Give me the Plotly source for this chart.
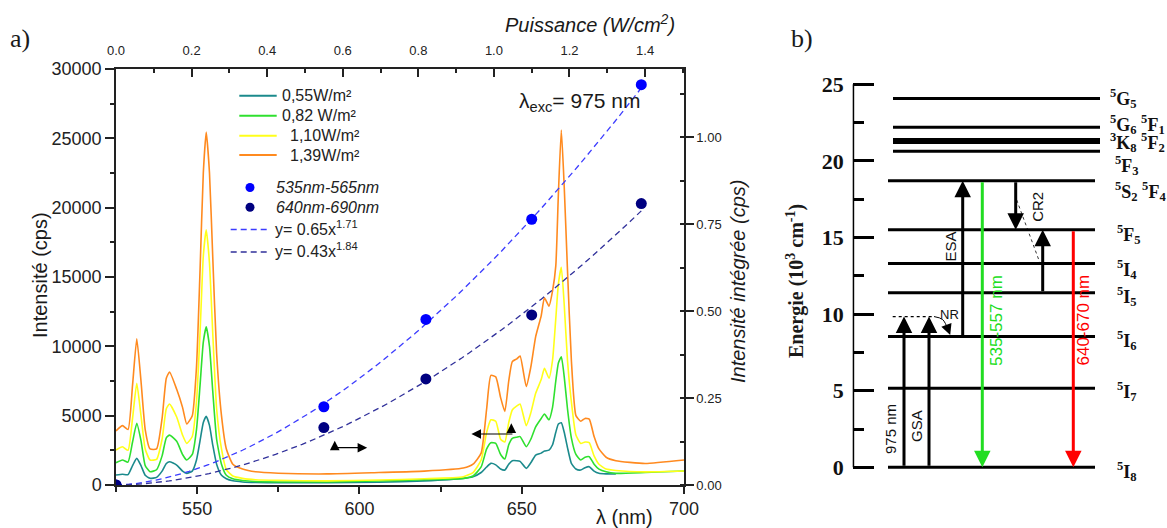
import numpy as np
import plotly.graph_objects as go

W, H = 1167, 528

# ---------------- data : emission spectra ----------------
wavelength_nm = [525, 527, 528.7, 530.1, 531.4, 532.7, 534, 535.5, 537.5, 539.2,
                 540.5, 541.5, 543.7, 545.5, 546.8, 548.5, 549.8, 550.9, 551.9, 552.8,
                 553.8, 554.8, 556, 557.5, 559, 561, 564, 568, 575, 590,
                 606, 620, 632, 635, 637.5, 639.2, 640.5, 642, 643.5, 644.8,
                 646, 647.1, 648.5, 649.5, 651.4, 652.8, 654.3, 656, 657, 658.4,
                 659.5, 660.5, 661.3, 662.2, 663.1, 664.1, 665.3, 666.7, 668.2, 669.5,
                 670.8, 672.3, 673.8, 676, 679, 688, 700]

spec_055 = [720, 770, 750, 1400, 1920, 1400, 700, 480, 550, 1000,
            1550, 1680, 1440, 1000, 840, 1000, 1800, 3200, 4500, 4950,
            4300, 2900, 1500, 700, 450, 300, 220, 180, 170, 170,
            200, 300, 480, 600, 900, 1300, 1560, 1450, 1150, 1080,
            1500, 1750, 1750, 1700, 1200, 1600, 2160, 2300, 2450, 2520,
            2900, 3800, 4400, 4490, 3800, 2700, 1560, 1150, 1080, 1250,
            1320, 1000, 840, 800, 790, None, None]

spec_082 = [1610, 1800, 1650, 3100, 4450, 3200, 1400, 960, 1100, 2100,
            3400, 3600, 3150, 2200, 1800, 2200, 4000, 7200, 10300, 11400,
            10000, 6800, 3300, 1500, 700, 450, 320, 250, 220, 220,
            290, 380, 480, 650, 1300, 2600, 3050, 3000, 2200, 1875,
            2900, 3370, 3450, 3490, 2760, 3300, 4200, 4800, 5120, 4700,
            5600, 7500, 8800, 9250, 7800, 5500, 3400, 2200, 1800, 2000,
            2040, 1500, 1150, 950, 840, 900, 1010]

spec_110 = [2520, 2760, 2500, 4800, 7330, 5000, 2600, 1800, 1850, 3300,
            5500, 5840, 4900, 3600, 3000, 3500, 6000, 11000, 16500, 18400,
            16000, 11000, 5500, 2600, 1100, 650, 480, 380, 330, 300,
            360, 450, 600, 900, 1800, 3800, 4700, 4600, 3300, 3100,
            4500, 5410, 5700, 5840, 4280, 5200, 6610, 7600, 8410, 7700,
            9000, 12000, 14500, 15700, 13000, 9000, 6000, 3600, 3000, 3100,
            3050, 2100, 1500, 1150, 1050, 950, 1010]

spec_139 = [3900, 4280, 4000, 7200, 10550, 7500, 4000, 2600, 2600, 4800,
            7700, 8150, 6900, 5600, 4400, 5000, 8500, 15500, 22500, 25450,
            22500, 16500, 9500, 5000, 2600, 1500, 1150, 950, 850, 800,
            900, 1000, 1220, 1500, 2300, 5500, 7900, 7800, 6300, 5300,
            7500, 8900, 9100, 9300, 7100, 8500, 10700, 12200, 13500, 12900,
            14000, 15800, 21000, 25600, 21500, 15500, 9000, 5000, 4600, 4800,
            4750, 3500, 2600, 2000, 1750, 1550, 1800]

spec_names = ["0,55W/m²", "0,82 W/m²", "1,10W/m²", "1,39W/m²"]

# ---------------- data : integrated intensity vs power ----------------
power = [0.0, 0.55, 0.82, 1.10, 1.39]
int_green_band = [0.0, 0.225, 0.476, 0.764, 1.151]
int_red_band = [0.0, 0.165, 0.305, 0.489, 0.809]
band_names = ["535nm-565nm", "640nm-690nm"]
fit_green = (0.65, 1.71)   # y = a x^b
fit_red = (0.43, 1.84)

# ---------------- data : energy levels (10^3 cm-1) ----------------
level_energy = [0, 5.16, 8.54, 11.4, 13.3, 15.5, 18.7, 20.63, 21.2, 21.4, 22.2, 24.07]
level_names = ["<sup>5</sup>G<sub>5</sub>",
               "<sup>5</sup>G<sub>6</sub> <sup>5</sup>F<sub>1</sub>",
               "<sup>3</sup>K<sub>8</sub> <sup>5</sup>F<sub>2</sub>",
               "<sup>5</sup>F<sub>3</sub>",
               "<sup>5</sup>S<sub>2</sub> <sup>5</sup>F<sub>4</sub>",
               "<sup>5</sup>F<sub>5</sub>",
               "<sup>5</sup>I<sub>4</sub>",
               "<sup>5</sup>I<sub>5</sub>",
               "<sup>5</sup>I<sub>6</sub>",
               "<sup>5</sup>I<sub>7</sub>",
               "<sup>5</sup>I<sub>8</sub>"]
level_label_energy = [24.1, 22.4, 21.2, 19.67, 17.97, 15.17, 12.88, 11.12, 8.31, 4.98, -0.24]
trans_from = [0, 0, 8.4, 18.7, 18.7, 11.4, 15.5]
trans_to = [9.84, 9.84, 18.7, 0, 15.5, 15.5, 0]
nr_level = 9.84

# ---------------- styling / positions ----------------
SANS = "Liberation Sans, Arial, sans-serif"
SERIF = "Liberation Serif, Times New Roman, serif"
spec_colors = ["#1b8a8c", "#2fe02f", "#ffff1a", "#ff8a1f"]
fit_colors = ["#3c3cff", "#30309a"]
pt_colors = ["#0000ff", "#000080"]
GREEN = "#22dd22"
RED = "#ff0000"

fig = go.Figure()

# spectra
for vals, name, col in zip([spec_055, spec_082, spec_110, spec_139], spec_names, spec_colors):
    fig.add_trace(go.Scatter(x=wavelength_nm, y=vals, mode="lines", name=name,
                             line=dict(color=col, width=1.6, shape="spline", smoothing=0.5)))

# fits
p_fit = np.linspace(0, max(power), 80)
fit_labels = []
for fit, col in zip([fit_green, fit_red], fit_colors):
    a, b = fit
    fit_labels.append(f"y= {a}x<sup>{b}</sup>")
    fig.add_trace(go.Scatter(x=p_fit, y=a * p_fit ** b, xaxis="x2", yaxis="y2", mode="lines",
                             name=fit_labels[-1], line=dict(color=col, width=1.3, dash="6px,4px")))
# points
for vals, col, nm in zip([int_green_band, int_red_band], pt_colors, band_names):
    fig.add_trace(go.Scatter(x=power, y=vals, xaxis="x2", yaxis="y2", mode="markers",
                             name=nm, marker=dict(color=col, size=11)))

# energy levels
LOW_X = (35.3, 242.3)
HIGH_X = (40.3, 247.3)
lx, ly, hx, hy = [], [], [], []
for e in level_energy:
    if e < 20:
        lx += [LOW_X[0], LOW_X[1], None]; ly += [e, e, None]
    else:
        hx += [HIGH_X[0], HIGH_X[1], None]; hy += [e, e, None]
fig.add_trace(go.Scatter(x=lx + hx, y=ly + hy, xaxis="x3", yaxis="y3", mode="lines",
                         line=dict(color="black", width=3), hoverinfo="skip"))
# dotted virtual level
fig.add_trace(go.Scatter(x=[40, 80.3], y=[nr_level, nr_level], xaxis="x3", yaxis="y3", mode="lines",
                         line=dict(color="black", width=1.3, dash="dot")))
# CR2 thin connecting line
fig.add_trace(go.Scatter(x=[164, 187.3], y=[17.45, 13.33], xaxis="x3", yaxis="y3",
                         mode="lines", line=dict(color="black", width=0.8, dash="dot")))
# NR curve
fig.add_trace(go.Scatter(x=[81.3, 90, 95.5], y=[nr_level, nr_level - 0.2, nr_level - 0.9], xaxis="x3", yaxis="y3",
                         mode="lines", line=dict(color="black", width=1, shape="spline")))

annotations = []
shapes = []
trans_x = [51.3, 76.3, 110, 129.6, 163, 190, 220.6]
trans_col = ["black", "black", "black", GREEN, "black", "black", RED]
for x, e0, e1, c in zip(trans_x, trans_from, trans_to, trans_col):
    annotations.append(dict(x=x, y=e1, ax=x, ay=e0, xref="x3", yref="y3", axref="x3", ayref="y3",
                            text="", showarrow=True, arrowhead=2, arrowsize=1.1, arrowwidth=3, arrowcolor=c))
# NR arrow head
annotations.append(dict(x=97.5, y=nr_level - 1.2, ax=95.5, ay=nr_level - 0.85, xref="x3", yref="y3",
                        axref="x3", ayref="y3", text="", showarrow=True, arrowhead=2, arrowsize=1.8,
                        arrowwidth=1.2, arrowcolor="black"))

# level labels
label_x = [255.5, 255.5, 255.5, 260.5, 260.5, 262.3, 262.3, 262.3, 262.3, 262.3, 262.3]
for t, e, x in zip(level_names, level_label_energy, label_x):
    annotations.append(dict(x=x, y=e, xref="x3", yref="y3", text=t, showarrow=False,
                            xanchor="left", yanchor="middle",
                            font=dict(family=SERIF, size=18, color="#111", weight="bold")))

# transition labels
def tl(text, x, e, size=15, color="#111", angle=-90):
    annotations.append(dict(x=x, y=e, xref="x3", yref="y3", text=text, showarrow=False, textangle=angle,
                            xanchor="center", yanchor="middle",
                            font=dict(family=SANS, size=size, color=color)))

tl("975 nm", 37.3, 2.5)
tl("GSA", 64.3, 2.7)
tl("ESA", 98, 14.4)
tl("CR2", 185.3, 17.0)
tl("NR", 96.5, 10.0, size=13, angle=0)
tl("535-557 nm", 144, 9.6, size=17, color=GREEN)
tl("640-670 nm", 230.6, 9.6, size=17, color=RED)


def pa(text, x, y, size, family=SANS, angle=0, color="#1a1a1a", xanchor="center", italic=False):
    annotations.append(dict(x=x / W, y=1 - y / H, xref="paper", yref="paper", text=text, showarrow=False,
                            textangle=angle, xanchor=xanchor, yanchor="middle",
                            font=dict(family=family, size=size, color=color,
                                      style="italic" if italic else "normal")))

pa("Intensité (cps)", 40, 275, 20, angle=-90)
pa("λ (nm)", 624, 517, 20)
pa("Puissance (W/cm<sup>2</sup>)", 590, 24, 20, italic=True)
pa("Intensité intégrée (cps)", 738, 282, 20, angle=-90, italic=True)
pa("λ<sub>exc</sub>= 975 nm", 580, 102, 21)
pa("a)", 20, 38, 26, family=SERIF)
pa("b)", 802, 38, 26, family=SERIF)
pa("<b>Energie (10<sup>3</sup> cm<sup>-1</sup>)</b>", 795, 281, 20, family=SERIF, angle=-90)

# ---- manual legend (panel a) ----
leg_line_y = [95.7, 115.7, 135.7, 155.0]
leg_line_tx = [279.5, 279.5, 287.5, 287.5]
for yy, tx, nm, col in zip(leg_line_y, leg_line_tx, spec_names, spec_colors):
    shapes.append(dict(type="line", xref="paper", yref="paper", x0=239.3 / W, x1=276.7 / W,
                       y0=1 - yy / H, y1=1 - yy / H, line=dict(color=col, width=2)))
    pa(nm, tx, yy, 16, color="#222", xanchor="left")
leg_pt_y = [187.5, 207.3]
for yy, nm, col in zip(leg_pt_y, band_names, pt_colors):
    shapes.append(dict(type="circle", xref="paper", yref="paper", x0=245.5 / W, x1=254.5 / W,
                       y0=1 - (yy + 4.5) / H, y1=1 - (yy - 4.5) / H, fillcolor=col, line=dict(width=0)))
    pa(nm, 274, yy, 16, color="#222", xanchor="left", italic=True)
leg_fit_y = [229.5, 252.0]
for yy, nm, col in zip(leg_fit_y, fit_labels, fit_colors):
    shapes.append(dict(type="line", xref="paper", yref="paper", x0=230.7 / W, x1=270 / W,
                       y0=1 - yy / H, y1=1 - yy / H, line=dict(color=col, width=1.3, dash="6px,4px")))
    pa(nm, 272.5, yy - 2, 16, color="#222", xanchor="left")

# small axis indicator arrows on panel a
for (x, y, ax, ay) in [(602.4, 2690, 592.2, 2690), (592.4, 3200, 592.4, 2690),
                       (634.5, 3677, 647.6, 3677), (646.8, 4450, 646.8, 3677)]:
    annotations.append(dict(x=x, y=y, ax=ax, ay=ay, xref="x", yref="y", axref="x", ayref="y",
                            text="", showarrow=True, arrowhead=2, arrowsize=1.6, arrowwidth=1.2,
                            arrowcolor="black"))

shapes.append(dict(type="line", xref="x3", yref="y3", x0=0, x1=0, y0=0, y1=25,
                   line=dict(color="black", width=3)))

xd = [116 / W, 684 / W]
yd = [(H - 485) / H, (H - 69) / H]
tickfont = dict(family=SANS, color="#222")
ax_common = dict(automargin=False, showgrid=False, zeroline=False, showline=True, linecolor="#222",
                 linewidth=1.5, tickwidth=1.5, tickcolor="#222")

fig.update_layout(
    width=W, height=H, margin=dict(l=0, r=0, t=0, b=0, autoexpand=False),
    paper_bgcolor="white", plot_bgcolor="rgba(0,0,0,0)",
    showlegend=False,
    xaxis=dict(domain=xd, range=[525, 700], anchor="y", tick0=550, dtick=50, ticks="outside", ticklen=7,
               minor=dict(dtick=25, ticks="outside", ticklen=5, tickwidth=1.5, tickcolor="#222"),
               tickfont=dict(size=18, **tickfont), **ax_common),
    yaxis=dict(domain=yd, range=[0, 30000], anchor="x", dtick=5000, tickformat="d",
               ticks="outside", ticklen=9,
               minor=dict(dtick=2500, ticks="outside", ticklen=4, tickwidth=1.5, tickcolor="#222"),
               tickfont=dict(size=18, **tickfont), **ax_common),
    xaxis2=dict(overlaying="x", side="top", anchor="y", range=[0, 1.503], dtick=0.2, tick0=0,
                tickformat=".1f", ticks="inside", ticklen=8, ticklabelstandoff=7,
                minor=dict(dtick=0.1, ticks="inside", ticklen=4, tickwidth=1.5, tickcolor="#222"),
                tickfont=dict(size=13, **tickfont), **ax_common),
    yaxis2=dict(overlaying="y", side="right", anchor="x", range=[0, 1.196], dtick=0.25, tick0=0,
                tickformat=".2f", ticks="outside", ticklen=8,
                minor=dict(dtick=0.125, ticks="inside", ticklen=4, tickwidth=1.5, tickcolor="#222"),
                tickfont=dict(size=13, **tickfont), **ax_common),
    xaxis3=dict(domain=[852.7 / W, 1.0], range=[0, 314.3], anchor="y3", visible=False, automargin=False),
    yaxis3=dict(domain=[(H - 490.3) / H, (H - 61.3) / H], range=[-1.5, 26.5], anchor="x3",
                automargin=False, showline=False, showgrid=False, zeroline=False, tick0=0, dtick=5,
                ticks="inside", ticklen=21, tickwidth=3, tickcolor="black", ticklabelstandoff=8,
                minor=dict(dtick=2.5, ticks="inside", ticklen=11, tickwidth=3, tickcolor="black"),
                tickfont=dict(family=SERIF, size=22, color="#111", weight="bold")),
    shapes=shapes,
    annotations=annotations,
)

fig.write_html("out.html", config={"displayModeBar": False},
               post_script="document.body.style.margin='0px';")
